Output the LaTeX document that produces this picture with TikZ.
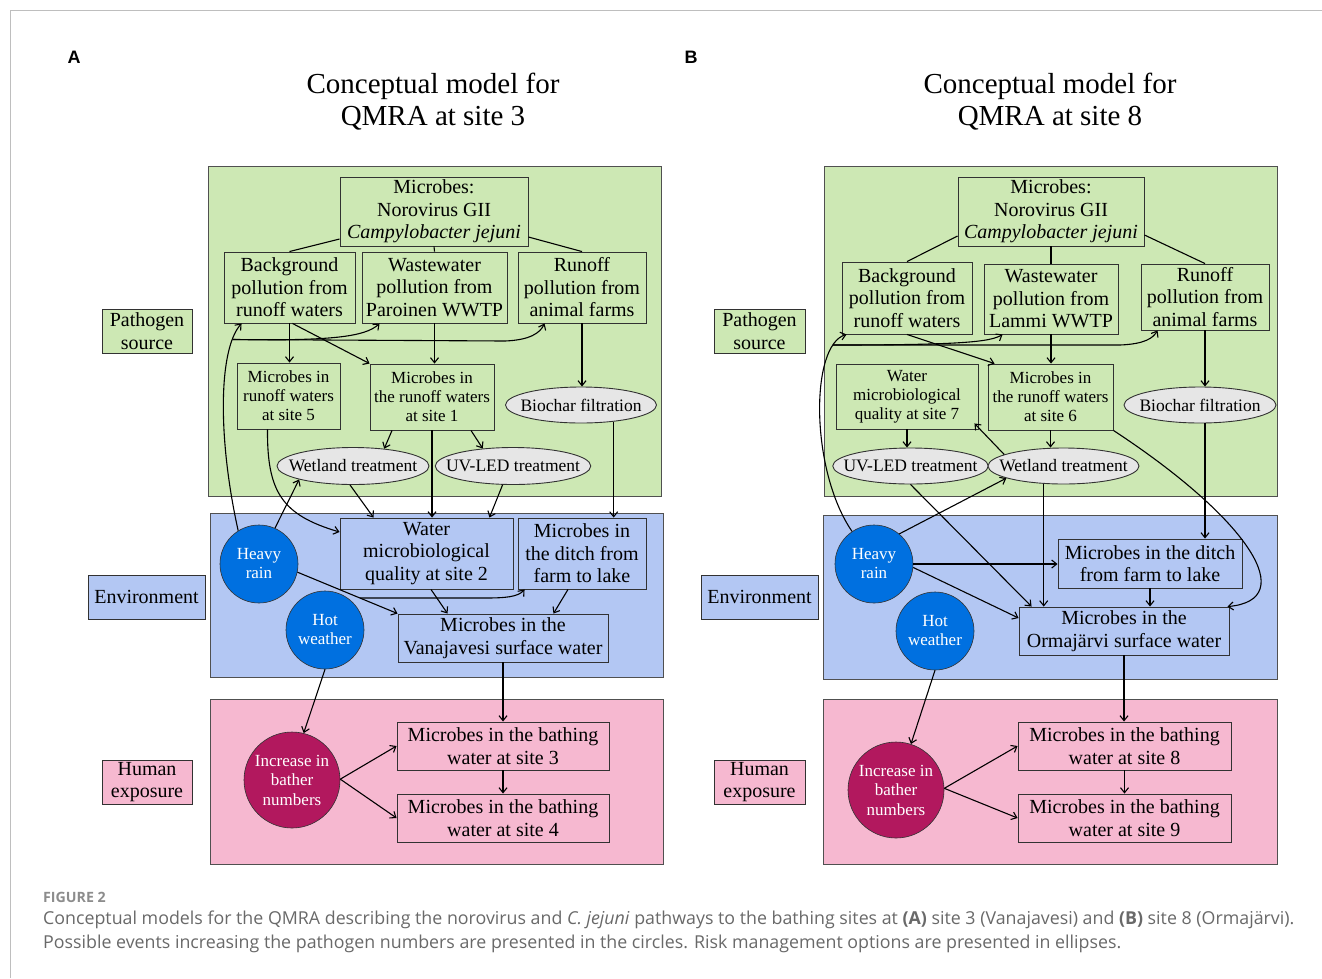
\documentclass[tikz,border=0pt]{standalone}
\usepackage{fontspec}
\setmainfont{Liberation Serif}
\newfontfamily\capfont{Open Sans}
\newfontfamily\panfont{Liberation Sans}
\usetikzlibrary{arrows.meta,shapes.geometric,calc}
\definecolor{greenz}{RGB}{205,232,180}
\definecolor{bluez}{RGB}{179,199,243}
\definecolor{pinkz}{RGB}{246,184,208}
\definecolor{ellfill}{RGB}{230,230,230}
\definecolor{rainblue}{RGB}{0,112,224}
\definecolor{crimsonc}{RGB}{178,24,94}
\definecolor{edgec}{RGB}{50,50,50}
\definecolor{zonec}{RGB}{80,80,80}
\definecolor{capgray}{RGB}{105,105,105}
\definecolor{figgray}{RGB}{140,140,140}
\definecolor{framegray}{RGB}{190,190,190}
\tikzset{
  bx/.style={draw=edgec, line width=0.9pt, align=center, inner sep=0pt, font=\fontsize{20}{22.5}\selectfont},
  sbx/.style={bx, font=\fontsize{17}{19}\selectfont},
  ell/.style={ellipse, draw=edgec, fill=ellfill, line width=0.9pt, inner xsep=-12pt, inner ysep=-4pt, font=\fontsize{17.5}{19}\selectfont},
  evt/.style={circle, draw=edgec, line width=0.6pt, fill=rainblue, text=white, inner sep=0pt, minimum size=78pt, align=center, font=\fontsize{17}{19}\selectfont},
  bath/.style={evt, fill=crimsonc, minimum size=96pt, font=\fontsize{17}{19.5}\selectfont},
  zone/.style={draw=zonec, line width=0.9pt},
  ttl/.style={align=center, font=\fontsize{29}{32}\selectfont},
  pan/.style={font=\panfont\bfseries\fontsize{18}{20}\selectfont},
  arr/.style={-{Straight Barb[length=5pt,width=8pt]}, line width=1.1pt},
  ln/.style={line width=1.1pt},
}
\begin{document}
\begin{tikzpicture}[x=1pt,y=-1pt]
\useasboundingbox (0,0) rectangle (1322,978);
\fill[white] (0,0) rectangle (1322,978);
\draw[framegray, line width=1pt] (10,978) -- (10,10) -- (1322,10);

% panel letters and titles
\node[pan] (pA) at (74,57) {A};
\node[pan] (pB) at (691,57) {B};
\node[ttl] (tA) at (433,102) {Conceptual model for\\QMRA at site 3};
\node[ttl] (tB) at (1050,102) {Conceptual model for\\QMRA at site 8};

% ================= zones =================
\draw[zone, fill=greenz] (208,166) rectangle (661,496);
\draw[zone, fill=bluez] (210,513) rectangle (663,677);
\draw[zone, fill=pinkz] (210,699) rectangle (663,864);
\draw[zone, fill=greenz] (824,166) rectangle (1277,496);
\draw[zone, fill=bluez] (823,515) rectangle (1277,679);
\draw[zone, fill=pinkz] (823,699) rectangle (1277,864);

% side labels
\node[bx, fill=greenz, minimum width=90pt, minimum height=44pt] (psA) at (147,331) {Pathogen\\source};
\node[bx, fill=bluez, minimum width=117pt, minimum height=44pt] (envA) at (146.5,597) {Environment};
\node[bx, fill=pinkz, minimum width=90pt, minimum height=44pt] (heA) at (147,782) {Human\\exposure};
\node[bx, fill=greenz, minimum width=91pt, minimum height=44pt] (psB) at (759.5,331) {Pathogen\\source};
\node[bx, fill=bluez, minimum width=117pt, minimum height=44pt] (envB) at (759.5,597) {Environment};
\node[bx, fill=pinkz, minimum width=91pt, minimum height=44pt] (heB) at (759.5,782) {Human\\exposure};

% ================= Panel A nodes =================
\node[bx, minimum width=188pt, minimum height=69pt] (mA) at (434,211.5) {Microbes:\\Norovirus GII\\\textit{Campylobacter jejuni}};
\node[bx, minimum width=131pt, minimum height=71pt] (bgA) at (289.5,287.5) {Background\\pollution from\\runoff waters};
\node[bx, minimum width=145pt, minimum height=71pt] (wwA) at (434.5,287.5) {Wastewater\\pollution from\\Paroinen WWTP};
\node[bx, minimum width=128pt, minimum height=71pt] (roA) at (582,287.5) {Runoff\\pollution from\\animal farms};
\node[sbx, minimum width=103pt, minimum height=66pt] (s5A) at (288.5,396) {Microbes in\\runoff waters\\at site 5};
\node[sbx, minimum width=124pt, minimum height=66pt] (s1A) at (432,397) {Microbes in\\the runoff waters\\at site 1};
\node[ell, minimum width=151pt, minimum height=36pt] (bioA) at (581,405) {Biochar filtration};
\node[ell, minimum width=152pt, minimum height=37pt] (wetA) at (353,466) {Wetland treatment};
\node[ell, minimum width=152pt, minimum height=37pt] (uvA) at (513,466) {UV-LED treatment};
\node[bx, minimum width=173pt, minimum height=71pt] (w2A) at (426.5,553.5) {Water\\microbiological\\quality at site 2};
\node[bx, minimum width=128pt, minimum height=71pt] (dA) at (582,553.5) {Microbes in\\the ditch from\\farm to lake};
\node[bx, minimum width=210pt, minimum height=48pt] (vA) at (503,638) {Microbes in the\\Vanajavesi surface water};
\node[evt] (hrA) at (259,564) {Heavy\\rain};
\node[evt] (hwA) at (325,630) {Hot\\weather};
\node[bath] (incA) at (292,780) {Increase in\\bather\\numbers};
\node[bx, minimum width=212pt, minimum height=48pt] (b3A) at (503,746) {Microbes in the bathing\\water at site 3};
\node[bx, minimum width=212pt, minimum height=48pt] (b4A) at (503,818) {Microbes in the bathing\\water at site 4};

% ================= Panel A edges =================
\draw[ln] (mA.west |- 0,239) -- (bgA.north);
\draw[ln] (mA.south) -- (wwA.north);
\draw[ln] (mA.east |- 0,237) -- (roA.north);
\draw[arr] (bgA.south) -- (bgA.south |- s5A.north);
\draw[arr] ([xshift=3pt]bgA.south) -- (s1A.north west);
\draw[arr] (wwA.south) -- (wwA.south |- s1A.north);
\draw[arr] (roA.south) -- (roA.south |- bioA.north);
\draw[arr] ([xshift=-40pt]s1A.south) -- (wetA.29);
\draw[arr] ([xshift=39pt]s1A.south) -- (uvA.150);
\draw[arr] (s1A.south) -- (s1A.south |- w2A.north);
\draw[arr] (bioA.-27) -- (bioA.-27 |- dA.north);
\draw[arr] ([xshift=-3pt]wetA.south) -- ([xshift=34pt]w2A.north west);
\draw[arr] (uvA.-119) -- ([xshift=-24pt]w2A.north east);
\draw[arr] ([xshift=-21pt]s5A.south) .. controls (267,492) and (282,515) .. (w2A.west |- 0,532);
\draw[arr] (hrA.122) .. controls (218,440) and (218,350) .. ([xshift=18pt]bgA.south west);
\coordinate (jA) at (232.8,339.5);
\draw[arr] (jA) .. controls (330,341) and (365,337) .. ([xshift=18pt]wwA.south west);
\draw[arr] (jA) -- (505,341) .. controls (530,340) and (540,333) .. ([xshift=27pt]roA.south west);
\draw[arr] (hrA.66) -- (wetA.194);
\draw[arr] (hrA.-12) -- (vA.north west);
\coordinate (kA) at (360,598);
\draw[arr] (kA) -- (485,598) .. controls (505,598) and (518,597) .. ([xshift=7pt]dA.south west);
\draw[arr] ([xshift=4.5pt]w2A.south) -- ([xshift=50pt]vA.north west);
\draw[arr] ([xshift=-14pt]dA.south) -- ([xshift=-55pt]vA.north east);
\draw[arr] (vA.south) -- (b3A.north);
\draw[arr] (hwA.south) -- (incA.76);
\draw[arr] (incA.1) -- (b3A.west);
\draw[arr] (incA.1) -- (b4A.west);
\draw[arr] (b3A.south) -- (b4A.north);

% ================= Panel B nodes =================
\node[bx, minimum width=186pt, minimum height=69pt] (mB) at (1051,211.5) {Microbes:\\Norovirus GII\\\textit{Campylobacter jejuni}};
\node[bx, minimum width=130pt, minimum height=72pt] (bgB) at (907,298) {Background\\pollution from\\runoff waters};
\node[bx, minimum width=134pt, minimum height=70pt] (wwB) at (1051,299) {Wastewater\\pollution from\\Lammi WWTP};
\node[bx, minimum width=128pt, minimum height=66pt] (roB) at (1205,297) {Runoff\\pollution from\\animal farms};
\node[sbx, minimum width=142pt, minimum height=65pt] (s7B) at (907,396.5) {Water\\microbiological\\quality at site 7};
\node[sbx, minimum width=125pt, minimum height=66pt] (s6B) at (1050.5,397) {Microbes in\\the runoff waters\\at site 6};
\node[ell, minimum width=152pt, minimum height=36pt] (bioB) at (1200,405) {Biochar filtration};
\node[ell, minimum width=151pt, minimum height=36pt] (uvB) at (910.5,466) {UV-LED treatment};
\node[ell, minimum width=151pt, minimum height=36pt] (wetB) at (1063.5,466) {Wetland treatment};
\node[bx, minimum width=184pt, minimum height=49pt] (dB) at (1150,563.5) {Microbes in the ditch\\from farm to lake};
\node[bx, minimum width=210pt, minimum height=48pt] (oB) at (1124,631) {Microbes in the\\Ormajärvi surface water};
\node[evt] (hrB) at (874,564) {Heavy\\rain};
\node[evt] (hwB) at (935,631) {Hot\\weather};
\node[bath] (incB) at (896,790) {Increase in\\bather\\numbers};
\node[bx, minimum width=213pt, minimum height=48pt] (b8B) at (1124.5,746) {Microbes in the bathing\\water at site 8};
\node[bx, minimum width=213pt, minimum height=48pt] (b9B) at (1124.5,818) {Microbes in the bathing\\water at site 9};

% ================= Panel B edges =================
\draw[ln] (mB.west |- 0,236) -- (bgB.north);
\draw[ln] (mB.south) -- (wwB.north);
\draw[ln] (mB.east |- 0,235) -- (roB.north);
\draw[arr] (bgB.south) -- ([xshift=7pt]s6B.north west);
\draw[arr] (wwB.south) -- (wwB.south |- s6B.north);
\draw[arr] (roB.south) -- (roB.south |- bioB.north);
\draw[arr] (s7B.south) -- (s7B.south |- uvB.north);
\draw[arr] (s6B.south) -- (s6B.south |- wetB.north);
\draw[arr] (wetB.169) -- ([xshift=-4pt,yshift=6pt]s7B.south east);
\draw[arr] (s6B.south east) .. controls (1250,520) and (1300,600) .. ([xshift=-2pt]oB.north east);
\draw[arr] ([xshift=5pt]bioB.south) -- ([xshift=5pt]bioB.south |- dB.north);
\draw[arr] (wetB.-138) -- (wetB.-138 |- oB.north);
\draw[arr] (uvB.south) -- ([xshift=13pt]oB.north west);
\draw[arr] (hrB.124) .. controls (810,470) and (810,345) .. ([xshift=5pt]bgB.south west);
\coordinate (jB) at (833,345);
\draw[arr] (jB) .. controls (960,345) and (990,342) .. ([xshift=19pt]wwB.south west);
\draw[arr] (jB) -- (1120,345) .. controls (1145,344) and (1153,338) .. ([xshift=17pt]roB.south west);
\draw[arr] (hrB.50) -- (wetB.192);
\draw[arr] (hrB.east) -- (hrB.east -| dB.west);
\draw[arr] (hrB.-5) -- ([yshift=13pt]oB.west);
\draw[arr] (dB.south) -- (dB.south |- oB.north);
\draw[arr] (oB.south) -- (oB.south |- b8B.north);
\draw[arr] (hwB.south) -- (incB.72);
\draw[arr] (incB.2) -- (b8B.west);
\draw[arr] (incB.2) -- (b9B.west);
\draw[arr] (b8B.south) -- (b9B.north);

% ================= caption =================
\node[anchor=west, inner sep=0pt, text=figgray, font=\capfont\bfseries\fontsize{14.2}{16}\selectfont] (fig) at (43,897) {FIGURE 2};
\node[anchor=west, inner sep=0pt, text=capgray, font=\capfont\fontsize{17.8}{20}\selectfont] (cap1) at (43,920) {Conceptual models for the QMRA describing the norovirus and \textit{C. jejuni} pathways to the bathing sites at \textbf{(A)} site 3 (Vanajavesi) and \textbf{(B)} site 8 (Ormajärvi).};
\node[anchor=west, inner sep=0pt, text=capgray, font=\capfont\fontsize{17.8}{20}\selectfont] (cap2) at (43,944) {Possible events increasing the pathogen numbers are presented in the circles. Risk management options are presented in ellipses.};
\end{tikzpicture}
\end{document}
